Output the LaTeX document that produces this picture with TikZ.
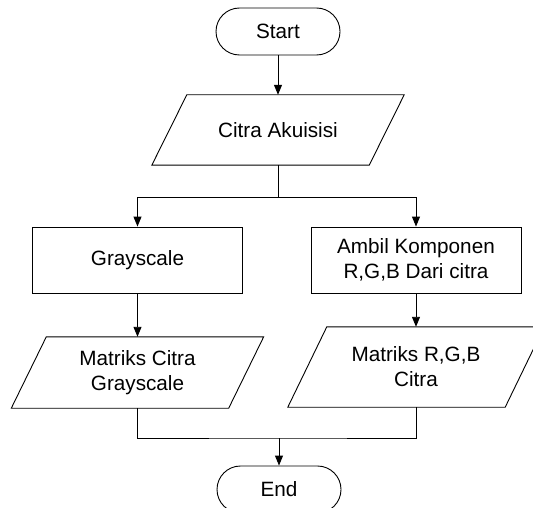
\documentclass[tikz,border=0pt]{standalone}
\usepackage{fontspec}
\setmainfont{Liberation Sans}
\usetikzlibrary{arrows.meta,calc}

% parallelogram (input/output) drawn around a named node; #2 = horizontal slant
\newcommand\drawio[2]{%
  \draw[flow] ($(#1.north west)+(#2/2,0)$) -- ($(#1.north east)+(#2/2,0)$)
    -- ($(#1.south east)+(-#2/2,0)$) -- ($(#1.south west)+(-#2/2,0)$) -- cycle;}

\begin{document}
\begin{tikzpicture}[x=1pt,y=-1pt,
  flow/.style={draw=black, line width=0.9pt},
  every node/.style={font=\fontsize{20.7}{25}\selectfont, align=center, inner sep=0pt},
  term/.style={flow, rounded corners=23.5pt, minimum width=124pt, minimum height=47pt},
  procbox/.style={flow, minimum width=210pt, minimum height=66pt},
  io/.style={minimum width=217pt},
  link/.style={flow, -{Triangle[length=10pt,width=8pt]}},
]
\clip (0,0) rectangle (533,508);

\node[term] (start) at (278,31.5) {Start};

\node[io, minimum height=70pt] (acq) at (278,130) {Citra Akuisisi};
\drawio{acq}{35}

\coordinate (split) at (278,197);

\node[procbox] (gray) at (137.5,260) {Grayscale};
\node[procbox] (rgb) at (416,260) {Ambil Komponen\\R,G,B Dari citra};

\node[io, minimum height=71pt] (mgray) at (137.5,372.5) {Matriks Citra\\Grayscale};
\drawio{mgray}{35}
\node[io, minimum height=80pt] (mrgb) at (416,367) {Matriks R,G,B\\Citra};
\drawio{mrgb}{39}

\coordinate (merge) at (279,438);
\node[term] (end) at (279,489.5) {End};

\draw[link] (start) -- (acq);
\draw[flow] (acq.south) -- (split);
\draw[link] (split) -| (gray.north);
\draw[link] (split) -| (rgb.north);
\draw[link] (gray) -- (mgray);
\draw[link] (rgb) -- (mrgb);
\draw[flow] (mgray.south) |- (merge) -| (mrgb.south);
\draw[link] (merge) -- (end);
\end{tikzpicture}
\end{document}
